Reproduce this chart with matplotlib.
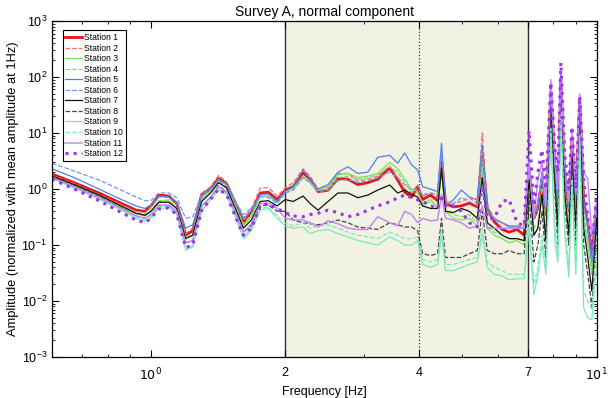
import matplotlib
matplotlib.use("Agg")
import matplotlib.pyplot as plt
from matplotlib.ticker import FixedLocator, NullFormatter

plt.rcParams['font.family'] = ['Liberation Sans', 'DejaVu Sans']

freq = [0.60, 0.673, 0.765, 0.848, 0.926, 0.970, 1.00, 1.042, 1.097, 1.143, 1.197, 1.241,
        1.300, 1.361, 1.418, 1.478, 1.547, 1.613, 1.680, 1.760, 1.834, 1.920, 2.001,
        2.085, 2.195, 2.276, 2.371, 2.497, 2.628, 2.767, 2.912, 3.066, 3.228, 3.433, 3.578,
        3.709, 3.845, 3.966,
        4.069, 4.240, 4.396, 4.487, 4.580, 4.771, 4.971, 5.180, 5.397, 5.538, 5.682, 5.890,
        6.137, 6.363, 6.630, 6.875,
        7.05, 7.23, 7.38, 7.54, 7.69, 7.89, 8.06, 8.18, 8.31, 8.48, 8.66, 8.80, 8.98, 9.16,
        9.35, 9.55, 9.75, 10.0]

st1 = [1.85, 1.30, 0.85, 0.58, 0.42, 0.40, 0.50, 0.78, 0.75, 0.55, 0.15, 0.18, 0.80, 1.00, 1.55, 1.25, 0.55, 0.25, 0.38, 0.85, 0.88, 0.65, 0.95,
       1.1, 1.95, 1.5, 0.9, 0.95, 1.55, 1.5, 1.2, 1.3, 1.5, 2.4, 1.45, 0.88, 0.72, 1.1,
       0.65, 0.78, 0.62, 3.6, 0.55, 0.48, 0.50, 0.56, 0.48, 4.2, 0.45, 0.26, 0.19, 0.17, 0.19, 0.15,
       2.4, 0.3, 0.45, 1.5, 0.35, 55, 2.5, 0.5, 95, 1.5, 0.4, 8, 0.5, 40, 0.6, 0.25, 0.06, 0.5]
st2 = [1.75, 1.25, 0.80, 0.55, 0.40, 0.38, 0.48, 0.72, 0.72, 0.55, 0.16, 0.20, 0.85, 1.10, 1.75, 1.35, 0.60, 0.30, 0.45, 1.05, 1.05, 0.75, 1.05,
       1.3, 2.3, 1.7, 1.0, 1.1, 1.9, 1.9, 1.4, 1.5, 1.7, 2.6, 1.6, 1.0, 0.85, 1.2,
       0.75, 0.85, 0.7, 4.2, 0.6, 0.55, 0.6, 0.7, 0.55, 10.0, 0.5, 0.3, 0.25, 0.22, 0.22, 0.2,
       3.0, 0.4, 0.6, 2.0, 0.5, 45, 3.0, 0.7, 80, 2.0, 0.5, 6, 0.7, 35, 0.8, 0.3, 0.08, 0.6]
st3 = [1.6, 1.15, 0.75, 0.5, 0.36, 0.33, 0.40, 0.60, 0.62, 0.45, 0.13, 0.15, 0.65, 0.9, 1.45, 1.15, 0.5, 0.22, 0.32, 0.72, 0.75, 0.58, 0.9,
       1.05, 1.6, 1.3, 1.0, 1.1, 1.8, 1.9, 1.6, 1.7, 1.9, 3.0, 2.3, 1.5, 1.0, 0.9,
       0.55, 0.65, 0.45, 2.0, 0.4, 0.3, 0.28, 0.3, 0.22, 2.5, 0.2, 0.15, 0.13, 0.11, 0.12, 0.1,
       1.5, 0.15, 0.2, 0.8, 0.15, 35, 1.5, 0.25, 60, 0.8, 0.2, 4, 0.3, 25, 0.3, 0.1, 0.03, 0.3]
st4 = [1.65, 1.2, 0.78, 0.52, 0.38, 0.35, 0.42, 0.62, 0.64, 0.47, 0.14, 0.16, 0.7, 0.95, 1.5, 1.2, 0.52, 0.24, 0.35, 0.78, 0.8, 0.6, 0.92,
       1.0, 1.7, 1.35, 0.95, 1.0, 1.6, 1.7, 1.5, 1.6, 1.8, 2.5, 2.0, 1.3, 0.9, 0.85,
       0.5, 0.6, 0.5, 2.2, 0.45, 0.35, 0.32, 0.35, 0.25, 3.0, 0.22, 0.17, 0.15, 0.13, 0.13, 0.12,
       1.8, 0.2, 0.25, 1.0, 0.2, 40, 1.8, 0.3, 70, 1.0, 0.25, 5, 0.35, 30, 0.35, 0.12, 0.04, 0.35]
st5 = [2.3, 1.6, 1.0, 0.68, 0.5, 0.45, 0.52, 0.75, 0.72, 0.58, 0.2, 0.23, 0.75, 1.0, 1.45, 1.25, 0.6, 0.3, 0.4, 0.8, 0.82, 0.6, 0.9,
       1.1, 2.2, 1.5, 1.0, 1.2, 2.0, 2.5, 1.9, 2.0, 3.7, 4.0, 2.9, 4.4, 2.7, 2.2,
       1.1, 1.0, 0.9, 6.6, 0.52, 0.64, 0.96, 0.72, 0.64, 6.1, 0.46, 0.28, 0.25, 0.21, 0.21, 0.2,
       3.5, 0.35, 0.5, 2.0, 0.4, 60, 3.0, 0.5, 110, 2.0, 0.5, 8, 0.6, 45, 0.6, 0.2, 0.05, 0.5]
st6 = [2.9, 2.1, 1.45, 1.0, 0.72, 0.62, 0.62, 0.85, 0.85, 0.7, 0.3, 0.32, 0.8, 1.0, 1.35, 1.1, 0.6, 0.35, 0.45, 0.75, 0.7, 0.55, 0.85,
       0.95, 1.6, 1.3, 0.9, 0.95, 1.4, 1.5, 1.3, 1.4, 1.6, 2.0, 1.6, 1.2, 0.95, 1.0,
       0.8, 0.85, 0.8, 5.0, 0.55, 0.55, 0.7, 0.6, 0.5, 5.0, 0.4, 0.3, 0.25, 0.22, 0.22, 0.2,
       3.0, 0.3, 0.45, 1.8, 0.4, 50, 2.5, 0.5, 100, 1.8, 0.45, 7, 0.55, 40, 0.5, 0.2, 0.05, 0.5]
st7 = [1.7, 1.2, 0.78, 0.52, 0.37, 0.34, 0.4, 0.58, 0.58, 0.45, 0.13, 0.15, 0.6, 0.85, 1.3, 1.05, 0.45, 0.2, 0.28, 0.6, 0.62, 0.5, 0.65,
       0.6, 0.75, 0.55, 0.42, 0.6, 0.85, 0.85, 0.7, 0.78, 0.96, 1.18, 0.85, 0.96, 0.8, 0.72,
       0.5, 0.45, 0.45, 2.3, 0.4, 0.38, 0.45, 0.4, 0.3, 1.6, 0.25, 0.2, 0.15, 0.13, 0.13, 0.12,
       1.5, 0.15, 0.2, 0.8, 0.12, 30, 1.2, 0.2, 60, 0.8, 0.15, 5, 0.2, 25, 0.2, 0.06, 0.015, 0.3]
st8 = [1.65, 1.15, 0.72, 0.48, 0.33, 0.3, 0.35, 0.5, 0.5, 0.4, 0.11, 0.12, 0.5, 0.7, 1.15, 0.9, 0.38, 0.17, 0.22, 0.5, 0.52, 0.4, 0.4,
       0.28, 0.25, 0.24, 0.23, 0.25, 0.28, 0.25, 0.21, 0.2, 0.19, 0.25, 0.23, 0.21, 0.21, 0.18,
       0.07, 0.065, 0.07, 0.3, 0.06, 0.06, 0.06, 0.07, 0.08, 0.4, 0.08, 0.07, 0.07, 0.08, 0.07, 0.07,
       0.8, 0.05, 0.1, 0.4, 0.06, 25, 0.8, 0.1, 50, 0.5, 0.1, 3, 0.1, 20, 0.1, 0.03, 0.008, 0.2]
st9 = [1.55, 1.05, 0.66, 0.44, 0.3, 0.27, 0.3, 0.45, 0.46, 0.35, 0.085, 0.09, 0.4, 0.65, 0.95, 0.8, 0.32, 0.13, 0.18, 0.42, 0.45, 0.3, 0.22,
       0.2, 0.21, 0.16, 0.18, 0.19, 0.16, 0.14, 0.12, 0.11, 0.1, 0.14, 0.12, 0.1, 0.1, 0.12,
       0.045, 0.04, 0.045, 0.15, 0.035, 0.035, 0.04, 0.045, 0.05, 0.15, 0.04, 0.03, 0.028, 0.024, 0.025, 0.025,
       0.2, 0.013, 0.03, 0.1, 0.03, 8, 0.11, 0.05, 15, 0.15, 0.027, 1, 0.03, 8, 0.0075, 0.005, 0.0046, 0.05]
st10 = [1.6, 1.1, 0.7, 0.46, 0.32, 0.29, 0.32, 0.48, 0.5, 0.38, 0.08, 0.1, 0.45, 0.7, 1.0, 0.85, 0.35, 0.14, 0.2, 0.45, 0.48, 0.33, 0.25,
        0.22, 0.25, 0.2, 0.22, 0.23, 0.2, 0.17, 0.15, 0.14, 0.13, 0.17, 0.15, 0.13, 0.13, 0.14,
        0.055, 0.05, 0.055, 0.2, 0.045, 0.045, 0.05, 0.055, 0.06, 0.2, 0.05, 0.04, 0.035, 0.03, 0.03, 0.03,
        0.3, 0.02, 0.04, 0.15, 0.04, 12, 0.2, 0.06, 25, 0.25, 0.04, 1.5, 0.05, 10, 0.015, 0.01, 0.007, 0.08]
st11 = [1.6, 1.1, 0.7, 0.47, 0.33, 0.3, 0.35, 0.52, 0.52, 0.4, 0.11, 0.12, 0.5, 0.72, 1.1, 0.9, 0.38, 0.17, 0.24, 0.55, 0.56, 0.45, 0.3,
        0.28, 0.28, 0.25, 0.21, 0.27, 0.24, 0.2, 0.19, 0.19, 0.32, 0.25, 0.22, 0.4, 0.35, 0.25,
        0.3, 0.27, 0.28, 0.8, 0.3, 0.28, 0.25, 0.2, 0.22, 0.5, 0.2, 0.2, 0.2, 0.2, 0.2, 0.2,
        3, 0.3, 1.5, 3, 0.5, 90, 3, 1, 120, 3, 0.6, 10, 0.8, 50, 2, 1.5, 0.15, 0.6]
st12 = [1.5, 1.0, 0.62, 0.4, 0.28, 0.25, 0.3, 0.44, 0.46, 0.35, 0.09, 0.1, 0.42, 0.65, 1.0, 0.8, 0.32, 0.15, 0.2, 0.5, 0.55, 0.45, 0.38,
        0.33, 0.32, 0.35, 0.37, 0.42, 0.38, 0.32, 0.35, 0.42, 0.5, 0.59, 0.7, 0.78, 0.7, 0.64,
        0.6, 0.5, 0.45, 0.8, 0.5, 0.5, 0.4, 0.25, 0.21, 1.2, 0.3, 0.3, 0.6, 0.65, 0.25, 0.22,
        11, 0.5, 2, 5, 1, 80, 5, 2, 180, 4, 1, 13, 1, 45, 1.5, 0.3, 0.08, 0.8]

stations = [st1, st2, st3, st4, st5, st6, st7, st8, st9, st10, st11, st12]
names = ["Station %d" % (i + 1) for i in range(12)]
colors = ['#e8141b', '#f06a6a', '#7ee05a', '#7ee05a', '#4d7ff0', '#6f98f0',
          '#111111', '#444444', '#7fe8b8', '#7fe8b8', '#c48af0', '#9a34ee']
styles = ['-', '--', '-', '--', '-', '--', '-', '--', '-', '--', '-', ':']
widths = [2.0, 0.9, 0.9, 0.9, 0.9, 0.9, 0.9, 0.9, 0.9, 0.9, 1.1, 2.2]

fig = plt.figure(figsize=(6.1, 3.98), dpi=100)
ax = fig.add_axes([0.0852, 0.103, 0.893, 0.844])

# frequency band of interest
ax.axvspan(2, 7, color='#f1f1e4', zorder=0)
ax.axvline(2, color='#333333', lw=1.0, zorder=1)
ax.axvline(7, color='#333333', lw=1.0, zorder=1)
ax.axvline(4, color='#333333', lw=0.9, ls=':', zorder=1)

for i in range(12):
    ax.plot(freq, stations[i], color=colors[i], ls=styles[i], lw=widths[i], label=names[i], zorder=2)

ax.set_xscale('log')
ax.set_yscale('log')
ax.set_xlim(0.6, 10)
ax.set_ylim(1e-3, 1e3)

ax.xaxis.set_major_locator(FixedLocator([1, 2, 4, 7, 10]))
ax.set_xticklabels(['$10^0$', '2', '4', '7', '$10^1$'])
ax.xaxis.set_minor_locator(FixedLocator([0.6, 0.7, 0.8, 0.9, 3, 5, 6, 8, 9]))
ax.xaxis.set_minor_formatter(NullFormatter())
ax.tick_params(which='both', direction='in', top=True, right=True, labelsize=9)
ax.tick_params(which='major', length=5)
ax.tick_params(which='minor', length=2.5)
ax.tick_params(axis='x', which='major', pad=7)
for s in ax.spines.values():
    s.set_linewidth(0.9)

ax.set_xlabel("Frequency [Hz]", fontsize=9, labelpad=2)
ax.set_ylabel("Amplitude (normalized with mean amplitude at 1Hz)", fontsize=9.3, labelpad=2)
ax.set_title("Survey A, normal component", fontsize=10, pad=4)

leg = ax.legend(loc='upper left', fontsize=6.2, frameon=True, fancybox=False,
                edgecolor='black', framealpha=1, borderpad=0.3, labelspacing=0.18,
                handlelength=1.9, handletextpad=0.3, bbox_to_anchor=(0.012, 0.985))
leg.get_frame().set_linewidth(0.8)

fig.savefig("out.png", dpi=100)
